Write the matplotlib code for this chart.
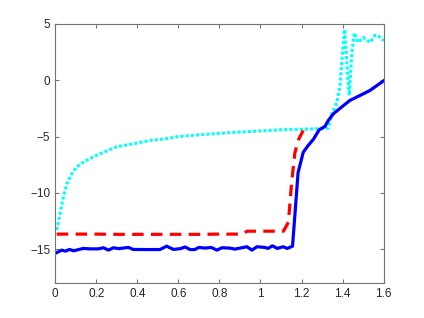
import matplotlib
matplotlib.use("Agg")
import matplotlib.pyplot as plt

# cyan dotted curve
cyan_x = [0.008, 0.024, 0.04, 0.057, 0.081, 0.105, 0.138, 0.186, 0.235, 0.3, 0.38, 0.46,
          0.54, 0.6, 0.7, 0.8, 0.9, 1.0, 1.1, 1.2, 1.3, 1.33, 1.347, 1.372, 1.388, 1.4,
          1.41, 1.42, 1.432, 1.445, 1.457, 1.476, 1.5, 1.534, 1.558, 1.58, 1.6]
cyan_y = [-13.3, -11.8, -10.4, -9.2, -8.3, -7.7, -7.27, -6.8, -6.4, -5.9, -5.65, -5.35,
          -5.2, -5.0, -4.85, -4.72, -4.6, -4.5, -4.4, -4.35, -4.3, -4.25, -3.0, -1.95, -0.33, 2.6,
          4.5, 1.7, -1.36, 2.5, 4.2, 3.35, 3.8, 3.35, 4.0, 3.85, 3.5]

# red dashed curve
red_x = [0.008, 0.1, 0.2, 0.3, 0.4, 0.5, 0.6, 0.7, 0.8, 0.91, 0.935, 1.0, 1.112,
         1.136, 1.151, 1.167, 1.183, 1.208]
red_y = [-13.66, -13.66, -13.66, -13.68, -13.68, -13.68, -13.68, -13.68, -13.66, -13.66,
         -13.4, -13.4, -13.4, -12.6, -9.2, -6.5, -5.35, -4.46]

# blue solid curve
blue_x = [0.008, 0.032, 0.05, 0.07, 0.09, 0.11, 0.138, 0.17, 0.21, 0.235, 0.26, 0.284,
          0.31, 0.357, 0.38, 0.45, 0.51, 0.543, 0.576, 0.61, 0.633, 0.657, 0.68, 0.7,
          0.73, 0.76, 0.788, 0.812, 0.85, 0.876, 0.934, 0.958, 0.983, 1.02, 1.037, 1.058,
          1.082, 1.11, 1.13, 1.156, 1.183, 1.208, 1.232, 1.257, 1.286, 1.314, 1.33, 1.355,
          1.394, 1.435, 1.484, 1.532, 1.6]
blue_y = [-15.3, -15.08, -15.17, -15.02, -15.14, -15.05, -14.93, -14.97, -14.97, -14.87,
          -15.08, -14.87, -14.95, -14.84, -15.02, -15.03, -15.03, -14.73, -15.02, -14.95,
          -14.8, -15.03, -15.03, -14.84, -14.9, -14.84, -15.08, -14.87, -14.9, -14.99,
          -14.78, -15.08, -14.78, -14.84, -14.93, -14.7, -14.93, -14.78, -14.93, -14.73,
          -8.2, -6.4, -5.8, -5.26, -4.4, -4.1, -3.58, -2.98, -2.4, -1.8, -1.36, -0.92, -0.05]

xticks = [0, 0.2, 0.4, 0.6, 0.8, 1, 1.2, 1.4, 1.6]
xtick_labels = ["0", "0.2", "0.4", "0.6", "0.8", "1", "1.2", "1.4", "1.6"]
yticks = [-15, -10, -5, 0, 5]

plt.rcParams["font.family"] = ["Liberation Sans", "DejaVu Sans"]

fig = plt.figure(figsize=(4.24, 3.18), dpi=100)
ax = fig.add_axes([0.13, 0.11, 0.775, 0.815])

ax.plot(cyan_x, cyan_y, color="cyan", linestyle=(0, (1, 0.7)), linewidth=2.2)
ax.plot(red_x, red_y, color="red", linestyle=(0, (3.6, 2.3)), linewidth=2.3)
ax.plot(blue_x, blue_y, color="blue", linewidth=2.3)

ax.set_xlim(0, 1.6)
ax.set_ylim(-18, 5)
ax.set_xticks(xticks)
ax.set_xticklabels(xtick_labels)
ax.set_yticks(yticks)

gray = "0.45"
for s in ax.spines.values():
    s.set_color(gray)
    s.set_linewidth(0.8)
ax.tick_params(direction="in", length=3, width=0.8, color=gray, labelsize=8.5,
               labelcolor="0.15", top=True, right=True)

fig.savefig("out.png", dpi=100)
